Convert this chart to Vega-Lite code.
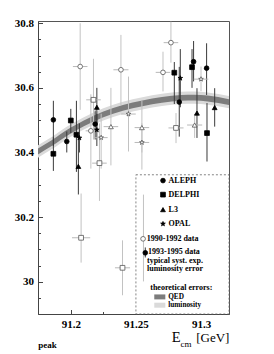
{
  "$schema": "https://vega.github.io/schema/vega-lite/v6.json",
  "width": 191,
  "height": 293,
  "autosize": {"type": "none"},
  "padding": {"left": 38, "top": 21, "right": 45, "bottom": 40},
  "background": "white",
  "config": {"view": {"stroke": "#555", "strokeWidth": 1}, "font": "Liberation Serif"},
  "resolve": {"axis": {"x": "independent", "y": "independent"}},
  "datasets": {
    "curve": [
      {"x": 91.1748, "y": 30.403, "d1": 30.394, "u1": 30.412, "d2": 30.384, "u2": 30.422},
      {"x": 91.185, "y": 30.428, "d1": 30.419, "u1": 30.437, "d2": 30.409, "u2": 30.447},
      {"x": 91.2, "y": 30.468, "d1": 30.459, "u1": 30.477, "d2": 30.449, "u2": 30.487},
      {"x": 91.21, "y": 30.49, "d1": 30.481, "u1": 30.499, "d2": 30.471, "u2": 30.509},
      {"x": 91.225, "y": 30.518, "d1": 30.509, "u1": 30.527, "d2": 30.499, "u2": 30.537},
      {"x": 91.24, "y": 30.538, "d1": 30.529, "u1": 30.547, "d2": 30.519, "u2": 30.557},
      {"x": 91.255, "y": 30.552, "d1": 30.543, "u1": 30.561, "d2": 30.533, "u2": 30.571},
      {"x": 91.27, "y": 30.563, "d1": 30.554, "u1": 30.572, "d2": 30.544, "u2": 30.582},
      {"x": 91.285, "y": 30.569, "d1": 30.56, "u1": 30.578, "d2": 30.55, "u2": 30.588},
      {"x": 91.295, "y": 30.57, "d1": 30.561, "u1": 30.579, "d2": 30.551, "u2": 30.589},
      {"x": 91.305, "y": 30.567, "d1": 30.558, "u1": 30.576, "d2": 30.548, "u2": 30.586},
      {"x": 91.3215, "y": 30.556, "d1": 30.547, "u1": 30.565, "d2": 30.537, "u2": 30.575}
    ],
    "pts": [
      {"exp": "ALEPH", "per": "90-92", "x": 91.2072, "y": 30.666, "ylo": 30.532, "yhi": 30.8, "xlo": 91.2016, "xhi": 91.2128},
      {"exp": "DELPHI", "per": "90-92", "x": 91.2174, "y": 30.563, "ylo": 30.44, "yhi": 30.69, "xlo": 91.2118, "xhi": 91.223},
      {"exp": "ALEPH", "per": "90-92", "x": 91.2154, "y": 30.467, "ylo": 30.35, "yhi": 30.58, "xlo": 91.2114, "xhi": 91.2194},
      {"exp": "DELPHI", "per": "90-92", "x": 91.222, "y": 30.367, "ylo": 30.25, "yhi": 30.49, "xlo": 91.2164, "xhi": 91.2276},
      {"exp": "L3", "per": "90-92", "x": 91.2308, "y": 30.48, "ylo": 30.36, "yhi": 30.6, "xlo": 91.2252, "xhi": 91.2364},
      {"exp": "OPAL", "per": "90-92", "x": 91.2233, "y": 30.446, "ylo": 30.35, "yhi": 30.52, "xlo": 91.2183, "xhi": 91.2283},
      {"exp": "ALEPH", "per": "90-92", "x": 91.2385, "y": 30.656, "ylo": 30.547, "yhi": 30.764, "xlo": 91.2327, "xhi": 91.2443},
      {"exp": "OPAL", "per": "90-92", "x": 91.2443, "y": 30.519, "ylo": 30.403, "yhi": 30.635, "xlo": 91.2387, "xhi": 91.2499},
      {"exp": "ALEPH", "per": "90-92", "x": 91.2769, "y": 30.74, "ylo": 30.678, "yhi": 30.805, "xlo": 91.2713, "xhi": 91.2825},
      {"exp": "ALEPH", "per": "90-92", "x": 91.2708, "y": 30.648, "ylo": 30.589, "yhi": 30.712, "xlo": 91.2652, "xhi": 91.2764},
      {"exp": "OPAL", "per": "90-92", "x": 91.3, "y": 30.627, "ylo": 30.59, "yhi": 30.666, "xlo": 91.2944, "xhi": 91.3056},
      {"exp": "DELPHI", "per": "90-92", "x": 91.2808, "y": 30.476, "ylo": 30.429, "yhi": 30.522, "xlo": 91.275, "xhi": 91.2866},
      {"exp": "L3", "per": "90-92", "x": 91.2951, "y": 30.485, "ylo": 30.445, "yhi": 30.52, "xlo": 91.2893, "xhi": 91.3009},
      {"exp": "L3", "per": "90-92", "x": 91.2546, "y": 30.477, "ylo": 30.4, "yhi": 30.56, "xlo": 91.249, "xhi": 91.2602},
      {"exp": "OPAL", "per": "90-92", "x": 91.2546, "y": 30.431, "ylo": 30.347, "yhi": 30.49, "xlo": 91.249, "xhi": 91.2602},
      {"exp": "DELPHI", "per": "90-92", "x": 91.2079, "y": 30.136, "ylo": 30.059, "yhi": 30.273, "xlo": 91.2009, "xhi": 91.2149},
      {"exp": "DELPHI", "per": "90-92", "x": 91.2397, "y": 30.043, "ylo": 29.958, "yhi": 30.128, "xlo": 91.2339, "xhi": 91.2455},
      {"exp": "ALEPH", "per": "93-95", "x": 91.1866, "y": 30.501, "ylo": 30.42, "yhi": 30.56},
      {"exp": "DELPHI", "per": "93-95", "x": 91.1866, "y": 30.396, "ylo": 30.343, "yhi": 30.448},
      {"exp": "ALEPH", "per": "93-95", "x": 91.1969, "y": 30.434, "ylo": 30.4, "yhi": 30.465},
      {"exp": "DELPHI", "per": "93-95", "x": 91.2, "y": 30.499, "ylo": 30.46, "yhi": 30.535},
      {"exp": "DELPHI", "per": "93-95", "x": 91.2043, "y": 30.455, "ylo": 30.34, "yhi": 30.56},
      {"exp": "L3", "per": "93-95", "x": 91.2058, "y": 30.357, "ylo": 30.27, "yhi": 30.45},
      {"exp": "OPAL", "per": "93-95", "x": 91.2066, "y": 30.445, "ylo": 30.4, "yhi": 30.49},
      {"exp": "L3", "per": "93-95", "x": 91.22, "y": 30.54, "ylo": 30.48, "yhi": 30.6},
      {"exp": "ALEPH", "per": "93-95", "x": 91.2187, "y": 30.488, "ylo": 30.44, "yhi": 30.53},
      {"exp": "OPAL", "per": "93-95", "x": 91.22, "y": 30.47, "ylo": 30.42, "yhi": 30.52},
      {"exp": "DELPHI", "per": "93-95", "x": 91.2795, "y": 30.647, "ylo": 30.55, "yhi": 30.68},
      {"exp": "OPAL", "per": "93-95", "x": 91.2841, "y": 30.63, "ylo": 30.54, "yhi": 30.72},
      {"exp": "ALEPH", "per": "93-95", "x": 91.2833, "y": 30.556, "ylo": 30.449, "yhi": 30.665},
      {"exp": "ALEPH", "per": "93-95", "x": 91.2943, "y": 30.681, "ylo": 30.62, "yhi": 30.745},
      {"exp": "DELPHI", "per": "93-95", "x": 91.2931, "y": 30.664, "ylo": 30.6, "yhi": 30.72},
      {"exp": "ALEPH", "per": "93-95", "x": 91.3043, "y": 30.661, "ylo": 30.578, "yhi": 30.738},
      {"exp": "L3", "per": "93-95", "x": 91.2969, "y": 30.522, "ylo": 30.445, "yhi": 30.599},
      {"exp": "L3", "per": "93-95", "x": 91.3105, "y": 30.539, "ylo": 30.48, "yhi": 30.599},
      {"exp": "DELPHI", "per": "93-95", "x": 91.3046, "y": 30.46, "ylo": 30.372, "yhi": 30.553}
    ],
    "box": [{"x": 91.25, "x2": 91.3215, "y": 29.9, "y2": 30.331}],
    "legsym": [
      {"exp": "ALEPH", "per": "93-95", "x": 91.2708, "y": 30.313},
      {"exp": "DELPHI", "per": "93-95", "x": 91.2708, "y": 30.2695},
      {"exp": "L3", "per": "93-95", "x": 91.2708, "y": 30.223},
      {"exp": "OPAL", "per": "93-95", "x": 91.2708, "y": 30.179},
      {"exp": "ALEPH", "per": "90-92", "x": 91.2555, "y": 30.1327},
      {"exp": "ALEPH", "per": "93-95", "x": 91.2572, "y": 30.0894}
    ],
    "legline": [
      {"per": "90-92", "x": 91.2558, "y": 30.0008, "y2": 30.2695},
      {"per": "93-95", "x": 91.2572, "y": 30.075, "y2": 30.106}
    ],
    "legtxt": [
      {"t": "ALEPH", "x": 91.2751, "y": 30.313},
      {"t": "DELPHI", "x": 91.2751, "y": 30.2695},
      {"t": "L3", "x": 91.2751, "y": 30.223},
      {"t": "OPAL", "x": 91.2751, "y": 30.179},
      {"t": "1990-1992 data", "x": 91.2583, "y": 30.1327},
      {"t": "1993-1995 data", "x": 91.2593, "y": 30.0905},
      {"t": "typical syst. exp.", "x": 91.2585, "y": 30.0655},
      {"t": "luminosity error", "x": 91.2585, "y": 30.0405},
      {"t": "theoretical errors:", "x": 91.261, "y": 29.9813}
    ],
    "swatch": [
      {"k": "QED", "x": 91.2641, "x2": 91.2726, "y": 29.9452, "y2": 29.9606, "tx": 91.2748, "ty": 29.9535},
      {"k": "luminosity", "x": 91.2641, "x2": 91.2726, "y": 29.9195, "y2": 29.935, "tx": 91.2748, "ty": 29.9266}
    ],
    "ttl": [
      {"t": "E", "x": 91.2775, "y": 29.8124},
      {"t": "cm", "x": 91.2843, "y": 29.797},
      {"t": "[GeV]", "x": 91.3218, "y": 29.8124},
      {"t": "peak", "x": 91.1749, "y": 29.795}
    ]
  },
  "layer": [
    {
      "data": {"name": "curve"},
      "mark": {"type": "area", "color": "#dadada", "interpolate": "monotone"},
      "encoding": {
        "x": {"field": "x", "type": "quantitative", "scale": {"domain": [91.1748, 91.3215], "nice": false, "zero": false},
          "axis": {"orient": "bottom", "title": null, "grid": false, "values": [91.2, 91.225, 91.25, 91.275, 91.3], "format": ".3~f",
            "labelExpr": "length(datum.label) <= 5 ? datum.label : ''",
            "tickSize": -2.5, "tickColor": "#444", "domainColor": "#444", "labelFont": "Liberation Serif", "labelFontWeight": "bold", "labelFontSize": 11, "labelColor": "#000", "labelPadding": 6.5, "labelFlush": false, "labelOverlap": false}},
        "y": {"field": "d2", "type": "quantitative", "scale": {"domain": [29.9, 30.807], "nice": false, "zero": false},
          "axis": {"orient": "left", "title": null, "grid": false, "values": [29.95, 30, 30.05, 30.1, 30.15, 30.2, 30.25, 30.3, 30.35, 30.4, 30.45, 30.5, 30.55, 30.6, 30.65, 30.7, 30.75, 30.8], "format": ".2~f",
            "labelExpr": "indexof(['30','30.2','30.4','30.6','30.8'], datum.label) >= 0 ? datum.label : ''",
            "tickSize": -2.5, "tickColor": "#444", "domainColor": "#444", "labelFont": "Liberation Serif", "labelFontWeight": "bold", "labelFontSize": 11, "labelColor": "#000", "labelPadding": 7, "labelFlush": false, "labelOverlap": false}},
        "y2": {"field": "u2"}
      }
    },
    {
      "data": {"name": "curve"},
      "mark": {"type": "area", "color": "#7c7c7c", "interpolate": "monotone"},
      "encoding": {
        "x": {"field": "x", "type": "quantitative", "scale": {"domain": [91.1748, 91.3215], "nice": false, "zero": false},
          "axis": {"orient": "bottom", "title": null, "grid": false, "values": [91.2, 91.25, 91.3], "labels": false, "domain": false, "tickSize": -4.5, "tickColor": "#444"}},
        "y": {"field": "d1", "type": "quantitative", "scale": {"domain": [29.9, 30.807], "nice": false, "zero": false},
          "axis": {"orient": "left", "title": null, "grid": false, "values": [30, 30.2, 30.4, 30.6, 30.8], "labels": false, "domain": false, "tickSize": -4.5, "tickColor": "#444"}},
        "y2": {"field": "u1"}
      }
    },
    {
      "data": {"name": "box"},
      "mark": {"type": "rect", "fill": "white", "stroke": "#666", "strokeWidth": 0.8, "strokeDash": [2, 2]},
      "encoding": {
        "x": {"field": "x", "type": "quantitative", "scale": {"domain": [91.1748, 91.3215], "nice": false, "zero": false}, "axis": null},
        "x2": {"field": "x2"},
        "y": {"field": "y", "type": "quantitative", "scale": {"domain": [29.9, 30.807], "nice": false, "zero": false}, "axis": null},
        "y2": {"field": "y2"}
      }
    },
    {
      "data": {"name": "pts"},
      "mark": {"type": "rule", "strokeWidth": 1},
      "encoding": {
        "x": {"field": "x", "type": "quantitative", "scale": {"domain": [91.1748, 91.3215], "nice": false, "zero": false}, "axis": null},
        "y": {"field": "ylo", "type": "quantitative", "scale": {"domain": [29.9, 30.807], "nice": false, "zero": false}, "axis": null},
        "y2": {"field": "yhi"},
        "color": {"condition": {"test": "datum.per == '90-92'", "value": "#c2c2c2"}, "value": "#3a3a3a"}
      }
    },
    {
      "data": {"name": "pts"},
      "transform": [{"filter": "datum.per == '90-92'"}],
      "mark": {"type": "rule", "strokeWidth": 1, "color": "#b8b8b8"},
      "encoding": {
        "x": {"field": "xlo", "type": "quantitative", "scale": {"domain": [91.1748, 91.3215], "nice": false, "zero": false}, "axis": null},
        "x2": {"field": "xhi"},
        "y": {"field": "y", "type": "quantitative", "scale": {"domain": [29.9, 30.807], "nice": false, "zero": false}, "axis": null}
      }
    },
    {
      "data": {"name": "pts"},
      "mark": {"type": "point", "strokeWidth": 0.8, "opacity": 1},
      "encoding": {
        "x": {"field": "x", "type": "quantitative", "scale": {"domain": [91.1748, 91.3215], "nice": false, "zero": false}, "axis": null},
        "y": {"field": "y", "type": "quantitative", "scale": {"domain": [29.9, 30.807], "nice": false, "zero": false}, "axis": null},
        "shape": {"field": "exp", "type": "nominal", "legend": null, "scale": {"domain": ["ALEPH", "DELPHI", "L3", "OPAL"], "range": ["circle", "square", "triangle-up", "M0,-1L0.235,-0.324L0.951,-0.309L0.38,0.124L0.588,0.809L0,0.4L-0.588,0.809L-0.38,0.124L-0.951,-0.309L-0.235,-0.324Z"]}},
        "size": {"field": "exp", "type": "ordinal", "legend": null, "scale": {"domain": ["ALEPH", "DELPHI", "L3", "OPAL"], "range": [22, 24, 24, 55]}},
        "fill": {"condition": {"test": "datum.per == '90-92'", "value": "white"}, "value": "black"},
        "stroke": {"condition": {"test": "datum.per == '90-92'", "value": "#555"}, "value": "black"}
      }
    },
    {
      "data": {"name": "legline"},
      "mark": {"type": "rule", "strokeWidth": 1},
      "encoding": {
        "x": {"field": "x", "type": "quantitative", "scale": {"domain": [91.1748, 91.3215], "nice": false, "zero": false}, "axis": null},
        "y": {"field": "y", "type": "quantitative", "scale": {"domain": [29.9, 30.807], "nice": false, "zero": false}, "axis": null},
        "y2": {"field": "y2"},
        "color": {"condition": {"test": "datum.per == '90-92'", "value": "#c2c2c2"}, "value": "#3a3a3a"}
      }
    },
    {
      "data": {"name": "legsym"},
      "mark": {"type": "point", "strokeWidth": 0.8, "opacity": 1},
      "encoding": {
        "x": {"field": "x", "type": "quantitative", "scale": {"domain": [91.1748, 91.3215], "nice": false, "zero": false}, "axis": null},
        "y": {"field": "y", "type": "quantitative", "scale": {"domain": [29.9, 30.807], "nice": false, "zero": false}, "axis": null},
        "shape": {"field": "exp", "type": "nominal", "legend": null},
        "size": {"field": "exp", "type": "ordinal", "legend": null},
        "fill": {"condition": {"test": "datum.per == '90-92'", "value": "white"}, "value": "black"},
        "stroke": {"condition": {"test": "datum.per == '90-92'", "value": "#555"}, "value": "black"}
      }
    },
    {
      "data": {"name": "legtxt"},
      "mark": {"type": "text", "align": "left", "baseline": "middle", "font": "Liberation Serif", "fontWeight": "bold", "fontSize": 8, "color": "#000"},
      "encoding": {
        "x": {"field": "x", "type": "quantitative", "scale": {"domain": [91.1748, 91.3215], "nice": false, "zero": false}, "axis": null},
        "y": {"field": "y", "type": "quantitative", "scale": {"domain": [29.9, 30.807], "nice": false, "zero": false}, "axis": null},
        "text": {"field": "t"}
      }
    },
    {
      "data": {"name": "swatch"},
      "mark": {"type": "rect"},
      "encoding": {
        "x": {"field": "x", "type": "quantitative", "scale": {"domain": [91.1748, 91.3215], "nice": false, "zero": false}, "axis": null},
        "x2": {"field": "x2"},
        "y": {"field": "y", "type": "quantitative", "scale": {"domain": [29.9, 30.807], "nice": false, "zero": false}, "axis": null},
        "y2": {"field": "y2"},
        "color": {"condition": {"test": "datum.k == 'QED'", "value": "#7c7c7c"}, "value": "#dadada"}
      }
    },
    {
      "data": {"name": "swatch"},
      "mark": {"type": "text", "align": "left", "baseline": "middle", "font": "Liberation Serif", "fontWeight": "bold", "fontSize": 7.3, "color": "#000"},
      "encoding": {
        "x": {"field": "tx", "type": "quantitative", "scale": {"domain": [91.1748, 91.3215], "nice": false, "zero": false}, "axis": null},
        "y": {"field": "ty", "type": "quantitative", "scale": {"domain": [29.9, 30.807], "nice": false, "zero": false}, "axis": null},
        "text": {"field": "k"}
      }
    },
    {
      "data": {"name": "ttl"},
      "transform": [{"filter": "datum.t == 'E'"}],
      "mark": {"type": "text", "align": "left", "baseline": "alphabetic", "font": "Liberation Serif", "fontSize": 14.5, "color": "#000"},
      "encoding": {
        "x": {"field": "x", "type": "quantitative", "scale": {"domain": [91.1748, 91.3215], "nice": false, "zero": false}, "axis": null},
        "y": {"field": "y", "type": "quantitative", "scale": {"domain": [29.9, 30.807], "nice": false, "zero": false}, "axis": null},
        "text": {"field": "t"}
      }
    },
    {
      "data": {"name": "ttl"},
      "transform": [{"filter": "datum.t == 'cm'"}],
      "mark": {"type": "text", "align": "left", "baseline": "alphabetic", "font": "Liberation Serif", "fontSize": 9, "color": "#000"},
      "encoding": {
        "x": {"field": "x", "type": "quantitative", "scale": {"domain": [91.1748, 91.3215], "nice": false, "zero": false}, "axis": null},
        "y": {"field": "y", "type": "quantitative", "scale": {"domain": [29.9, 30.807], "nice": false, "zero": false}, "axis": null},
        "text": {"field": "t"}
      }
    },
    {
      "data": {"name": "ttl"},
      "transform": [{"filter": "datum.t == '[GeV]'"}],
      "mark": {"type": "text", "align": "right", "baseline": "alphabetic", "font": "Liberation Serif", "fontSize": 13, "color": "#000"},
      "encoding": {
        "x": {"field": "x", "type": "quantitative", "scale": {"domain": [91.1748, 91.3215], "nice": false, "zero": false}, "axis": null},
        "y": {"field": "y", "type": "quantitative", "scale": {"domain": [29.9, 30.807], "nice": false, "zero": false}, "axis": null},
        "text": {"field": "t"}
      }
    },
    {
      "data": {"name": "ttl"},
      "transform": [{"filter": "datum.t == 'peak'"}],
      "mark": {"type": "text", "align": "left", "baseline": "alphabetic", "font": "Liberation Serif", "fontWeight": "bold", "fontSize": 9, "color": "#000"},
      "encoding": {
        "x": {"field": "x", "type": "quantitative", "scale": {"domain": [91.1748, 91.3215], "nice": false, "zero": false}, "axis": null},
        "y": {"field": "y", "type": "quantitative", "scale": {"domain": [29.9, 30.807], "nice": false, "zero": false}, "axis": null},
        "text": {"field": "t"}
      }
    }
  ]
}
